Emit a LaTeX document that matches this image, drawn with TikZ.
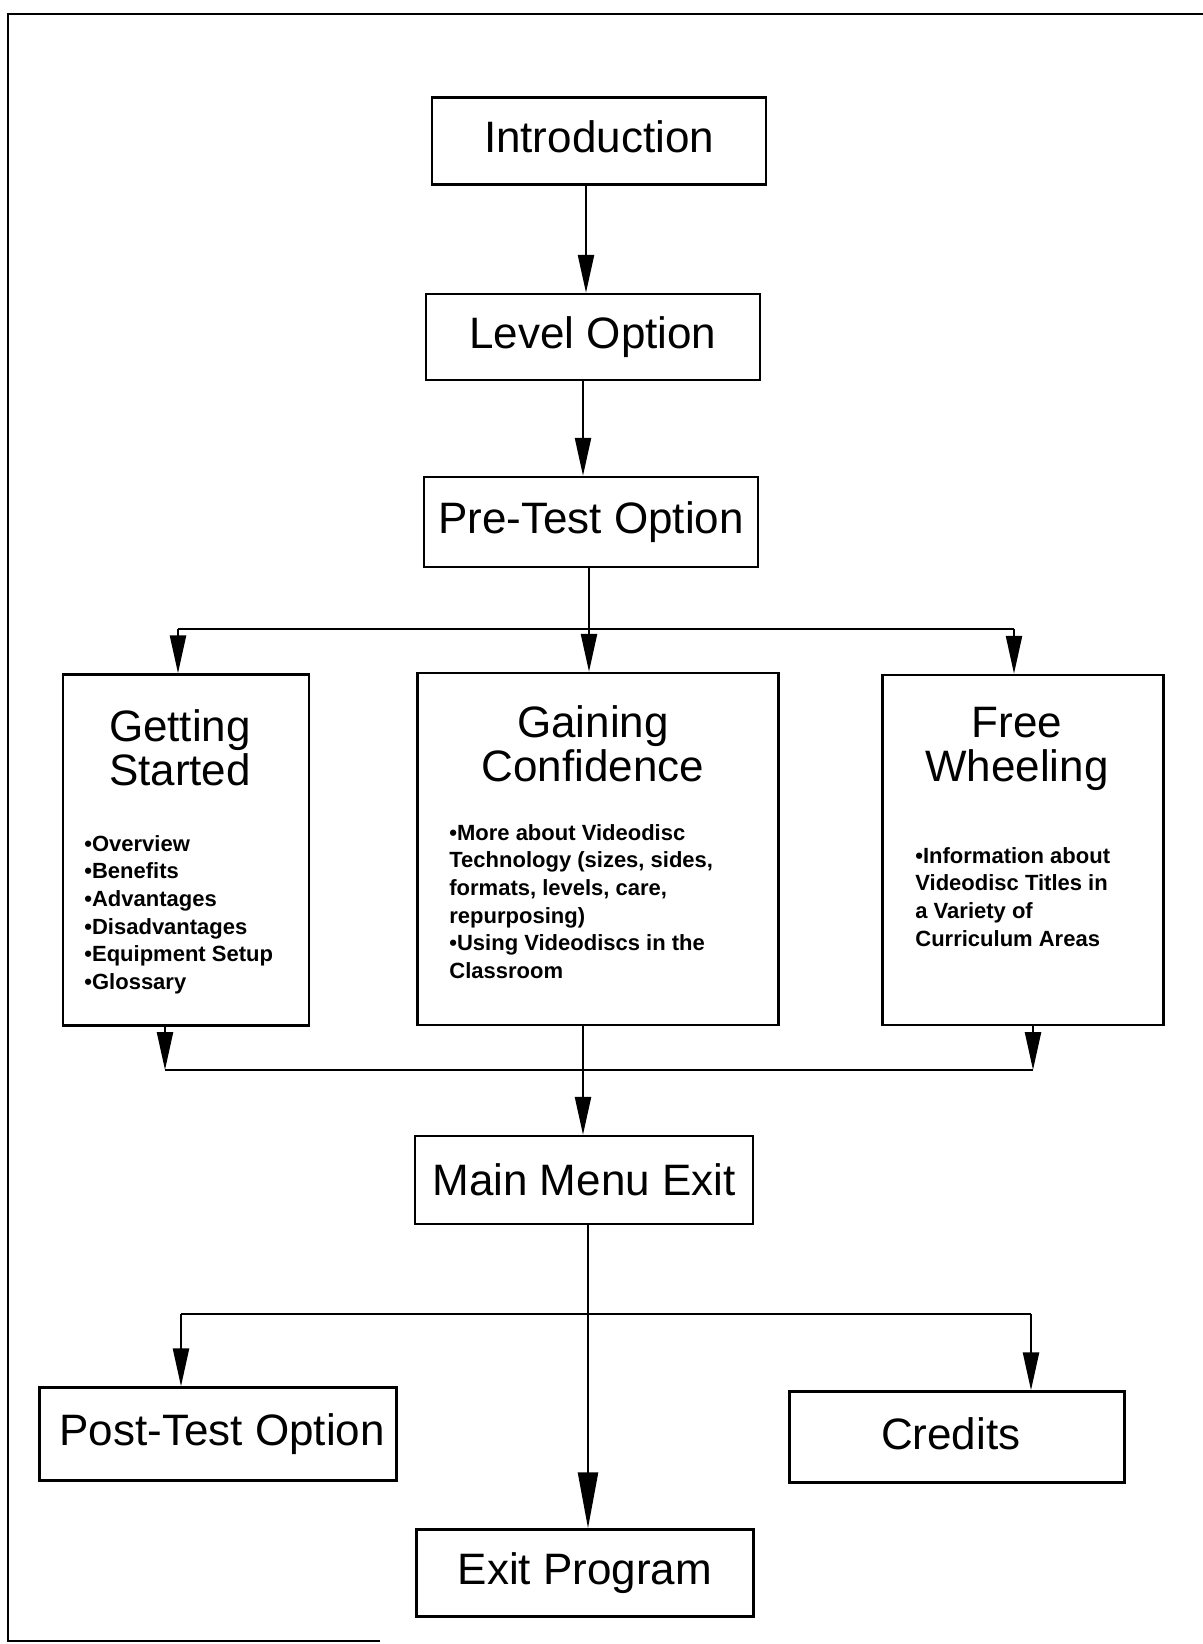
\documentclass[tikz,border=0pt]{standalone}
\usepackage{fontspec}
\setmainfont{Liberation Sans}
\usetikzlibrary{arrows.meta}

\tikzset{
  box/.style={draw, line width=1.2pt, inner sep=0pt, align=center,
    font=\fontsize{22}{22}\selectfont},
  title/.style={inner sep=0pt, align=center, font=\fontsize{22}{22}\selectfont},
  items/.style={inner sep=0pt, align=left, anchor=north west,
    font=\bfseries\fontsize{11}{13.8}\selectfont},
  link/.style={line width=1.2pt},
  arr/.style={line width=1.2pt, -{Triangle[length=19pt,width=8pt]}},
  longarr/.style={line width=1.2pt, -{Triangle[length=28pt,width=10pt]}}
}

\begin{document}
\begin{tikzpicture}[x=0.5pt,y=-0.5pt]
  \useasboundingbox (0,0) rectangle (1203,1644);

  % outer frame (open on the right)
  \draw[line width=1.4pt] (1203,14) -- (8,14) -- (8,1641) -- (380,1641);

  % upper chain
  \node[box, minimum width=167pt, minimum height=43.5pt, text depth=4pt] (intro) at (599,141) {Introduction};
  \node[box, minimum width=167pt, minimum height=43pt] (level) at (593,337) {Level Option};
  \node[box, minimum width=167pt, minimum height=45pt] (pretest) at (591,522) {Pre-Test Option};

  % three learning levels
  \node[box, minimum width=123pt, minimum height=175.5pt] (gs) at (186,850) {};
  \node[box, minimum width=180.5pt, minimum height=176pt] (gc) at (598,849) {};
  \node[box, minimum width=140.5pt, minimum height=175pt] (fw) at (1023,850) {};

  \node[title] (gsT) at (180,748) {Getting\\Started};
  \node[title] (gcT) at (593,744) {Gaining\\Confidence};
  \node[title] (fwT) at (1017,749) {Free\\Wheeling};

  \node[items] (gsL) at (84,835) {•Overview\\•Benefits\\•Advantages\\•Disadvantages\\•Equipment Setup\\•Glossary};
  \node[items] (gcL) at (449,824) {•More about Videodisc\\Technology (sizes, sides,\\formats, levels, care,\\repurposing)\\•Using Videodiscs in the\\Classroom};
  \node[items] (fwL) at (915,847) {•Information about\\Videodisc Titles in\\a Variety of\\Curriculum Areas};

  % lower part
  \node[box, minimum width=169pt, minimum height=44pt] (mme) at (584,1180) {Main Menu Exit};
  \node[box, minimum width=178.5pt, minimum height=46.5pt] (post) at (218,1434) {\hspace*{4.2pt}Post-Test Option};
  \node[box, minimum width=167.5pt, minimum height=45.5pt, text depth=3pt] (cred) at (957,1437) {Credits\hspace*{6.3pt}};
  \node[box, minimum width=168.5pt, minimum height=43.5pt] (exitp) at (585,1573) {Exit Program};

  % connector guide points
  \coordinate (xa) at (586,0);
  \coordinate (xb) at (583,0);
  \coordinate (xc) at (589,0);
  \coordinate (b1l) at (178,629);
  \coordinate (b1m) at (589,629);
  \coordinate (b1r) at (1014,629);
  \coordinate (b2l) at (165,1070);
  \coordinate (b2r) at (1033,1070);
  \coordinate (xd) at (583,0);
  \coordinate (xe) at (588,0);
  \coordinate (b3l) at (181,1314);
  \coordinate (b3m) at (588,1314);
  \coordinate (b3r) at (1031,1314);

  % connectors
  \draw[arr] (intro.south -| xa) -- (level.north -| xa);
  \draw[arr] (level.south -| xb) -- (pretest.north -| xb);

  \draw[link] (pretest.south -| xc) -- (b1m);
  \draw[link] (b1l) -- (b1r);
  \draw[arr] (b1l) -- (gs.north -| b1l);
  \draw[arr] (b1m) -- (gc.north -| b1m);
  \draw[arr] (b1r) -- (fw.north -| b1r);

  \draw[arr] (gs.south -| b2l) -- (b2l);
  \draw[arr] (fw.south -| b2r) -- (b2r);
  \draw[link] (b2l) -- (b2r);
  \draw[arr] (gc.south -| xd) -- (mme.north -| xd);

  \draw[longarr] (mme.south -| xe) -- (exitp.north -| xe);
  \draw[link] (b3l) -- (b3r);
  \draw[arr] (b3l) -- (post.north -| b3l);
  \draw[arr] (b3r) -- (cred.north -| b3r);
\end{tikzpicture}
\end{document}
